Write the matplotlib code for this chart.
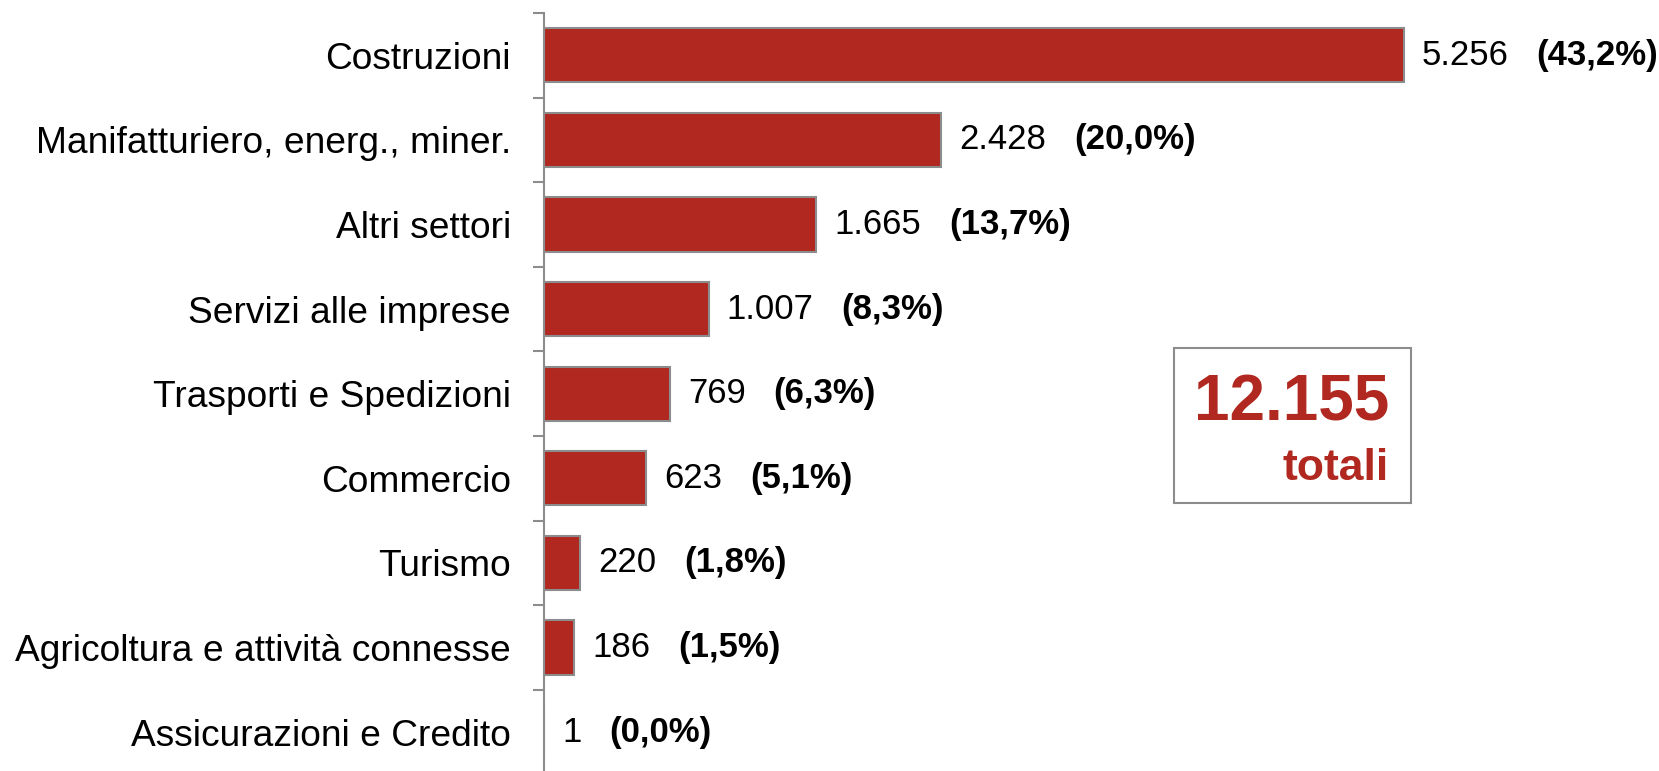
import matplotlib
matplotlib.use("Agg")
import matplotlib.pyplot as plt
from matplotlib.patches import Rectangle

plt.rcParams['font.family'] = ['Liberation Sans', 'DejaVu Sans']

categories = ["Costruzioni", "Manifatturiero, energ., miner.", "Altri settori",
              "Servizi alle imprese", "Trasporti e Spedizioni", "Commercio",
              "Turismo", "Agricoltura e attività connesse", "Assicurazioni e Credito"]
values = [5256, 2428, 1665, 1007, 769, 623, 220, 186, 1]
value_labels = ["5.256", "2.428", "1.665", "1.007", "769", "623", "220", "186", "1"]
pct_labels = ["(43,2%)", "(20,0%)", "(13,7%)", "(8,3%)", "(6,3%)", "(5,1%)",
              "(1,8%)", "(1,5%)", "(0,0%)"]
total_label = "12.155"
total_word = "totali"

red = "#B0281F"
grey = "#8C8C8C"

W, H = 1659, 771
fig = plt.figure(figsize=(W / 100, H / 100), dpi=100)

# axes placed in pixels: spine at x=544, top at y=13, 84.6 px per category
xmax = 6800
px_per_unit = 860 / 5256
left = 544 / W
width = xmax * px_per_unit / W
top = 1 - 13 / H
height = 9 * 84.6 / H
ax = fig.add_axes([left, top - height, width, height])

ypos = list(range(len(categories)))
ax.barh(ypos, values, height=0.64, color=red, edgecolor=grey, linewidth=1.5)
ax.set_xlim(0, xmax)
ax.set_ylim(len(categories) - 0.5, -0.5)

for s in ["top", "right", "bottom"]:
    ax.spines[s].set_visible(False)
ax.spines["left"].set_color(grey)
ax.spines["left"].set_linewidth(1.5)
ax.set_xticks([])

ax.set_yticks(ypos)
ax.set_yticklabels(categories, fontsize=26.7)
ax.tick_params(axis="y", which="major", length=0, pad=33 * 72 / 100)
ax.set_yticks([i - 0.5 for i in range(len(categories) + 1)], minor=True)
ax.tick_params(axis="y", which="minor", length=8, width=1.5, color=grey)

for y, v, vl, pl in zip(ypos, values, value_labels, pct_labels):
    t = ax.annotate(vl, xy=(v, y), xytext=(13, 0), textcoords="offset points",
                    va="center", ha="left", fontsize=25)
    ax.annotate(pl, xy=(1, 0.5), xycoords=t, xytext=(20, 0),
                textcoords="offset points", va="center", ha="left",
                fontsize=25, fontweight="bold")

# total box
fig.patches.append(Rectangle((1174 / W, 1 - 503 / H), (1411 - 1174) / W, (503 - 348) / H,
                             transform=fig.transFigure, fill=False,
                             edgecolor=grey, linewidth=1.5))
fig.text(1389 / W, 1 - 421 / H, total_label, ha="right", va="baseline",
         fontsize=46, fontweight="bold", color=red)
fig.text(1389 / W, 1 - 480 / H, total_word, ha="right", va="baseline",
         fontsize=32, fontweight="bold", color=red)

fig.savefig("out.png", dpi=100)
